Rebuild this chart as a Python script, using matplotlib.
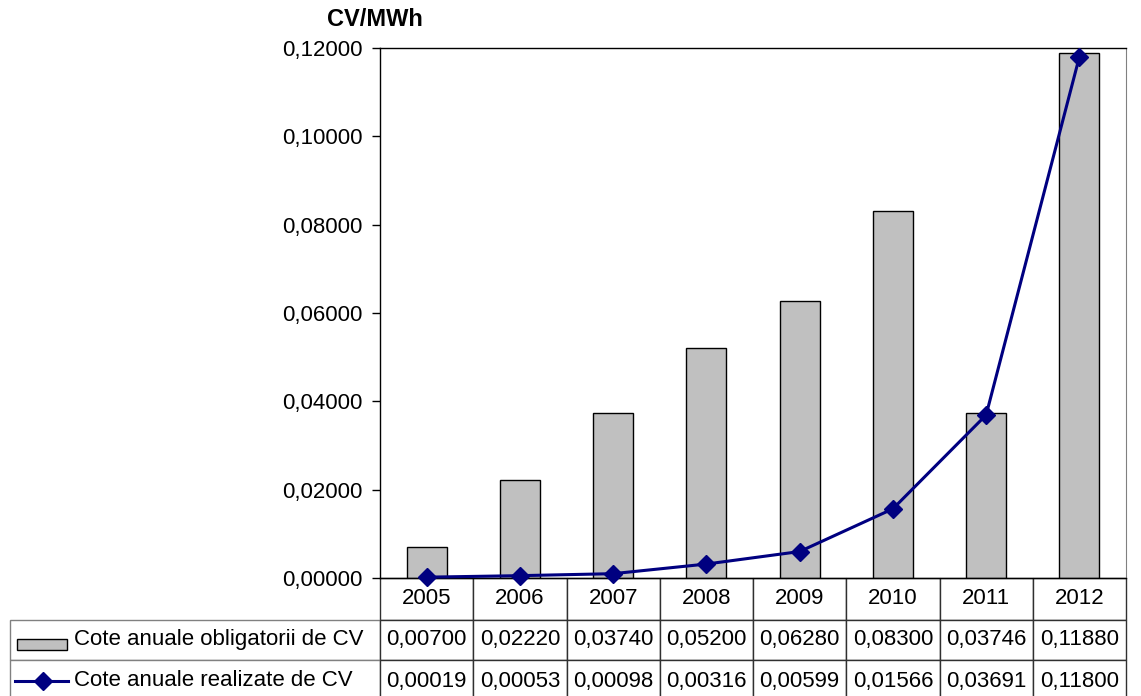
import matplotlib
matplotlib.use("Agg")
import matplotlib.pyplot as plt
from matplotlib.table import Table
from matplotlib.patches import Rectangle
from matplotlib.lines import Line2D
from matplotlib.ticker import FuncFormatter
import numpy as np

years = ["2005", "2006", "2007", "2008", "2009", "2010", "2011", "2012"]
cote_obligatorii = [0.00700, 0.02220, 0.03740, 0.05200, 0.06280, 0.08300, 0.03746, 0.11880]
cote_realizate = [0.00019, 0.00053, 0.00098, 0.00316, 0.00599, 0.01566, 0.03691, 0.11800]
series_names = ["Cote anuale obligatorii de CV", "Cote anuale realizate de CV"]
y_label = "CV/MWh"

plt.rcParams['font.family'] = ['Liberation Sans', 'DejaVu Sans']
FS = 16

W, H = 1141, 696
fig = plt.figure(figsize=(W / 100, H / 100), dpi=100)
ax = fig.add_axes([380 / W, 118 / H, 746 / W, 530 / H])

x = np.arange(len(years))
ax.bar(x, cote_obligatorii, width=0.43, color='#C0C0C0', edgecolor='black', linewidth=1, zorder=2)
ax.plot(x, cote_realizate, color='#000080', linewidth=2.2, marker='D', markersize=9.5,
        clip_on=False, zorder=6)

ax.set_xlim(-0.5, len(years) - 0.5)
ax.set_ylim(0, 0.12)
ax.set_yticks(np.arange(0, 0.1201, 0.02))
ax.yaxis.set_major_formatter(FuncFormatter(lambda v, p: f"{v:.5f}".replace('.', ',')))
ax.set_xticks([])
ax.tick_params(axis='y', direction='out', length=5.8, width=1, labelsize=FS, pad=7)
for s in ['top', 'left', 'bottom']:
    ax.spines[s].set_color('black')
    ax.spines[s].set_linewidth(1)
ax.spines['right'].set_color('#808080')

fig.text(375 / W, 1 - 20 / H, y_label, ha='center', va='center', fontsize=17, fontweight='bold')

# data table under the plot (last row runs past the bottom edge, as in the original)
lab_w, col_w = 370, 746 / len(years)
row_h = [42, 40, 42]
tab = Table(ax, bbox=[(10 - 380) / 746, -124 / 530, 1116 / 746, 124 / 530])
edge = '#303030'
for j, yr in enumerate(years):
    tab.add_cell(0, j + 1, width=col_w, height=row_h[0], text=yr, loc='center', edgecolor=edge)
rows = [cote_obligatorii, cote_realizate]
for i, vals in enumerate(rows):
    c = tab.add_cell(i + 1, 0, width=lab_w, height=row_h[i + 1], text=series_names[i], loc='left',
                     edgecolor='#808080')
    c.PAD = 64 / lab_w
    for j, v in enumerate(vals):
        tab.add_cell(i + 1, j + 1, width=col_w, height=row_h[i + 1],
                     text=f"{v:.5f}".replace('.', ','), loc='center', edgecolor=edge)
tab.auto_set_font_size(False)
tab.set_fontsize(FS)
tab.set_clip_on(False)
ax.add_table(tab)

# legend keys inside the row label cells
def fx(px):
    return (px - 380) / 746

def fy(py):
    return (578 - py) / 530

ax.add_patch(Rectangle((fx(17), fy(650)), (67 - 17) / 746, 11 / 530, transform=ax.transAxes,
                       facecolor='#C0C0C0', edgecolor='black', linewidth=1, clip_on=False))
ax.add_line(Line2D([fx(15), fx(68)], [fy(681), fy(681)], transform=ax.transAxes, color='#000080',
                   linewidth=2.2, clip_on=False))
ax.add_line(Line2D([fx(43)], [fy(681)], transform=ax.transAxes, color='#000080', marker='D',
                   markersize=9.5, clip_on=False))

fig.savefig("out.png", dpi=100)
